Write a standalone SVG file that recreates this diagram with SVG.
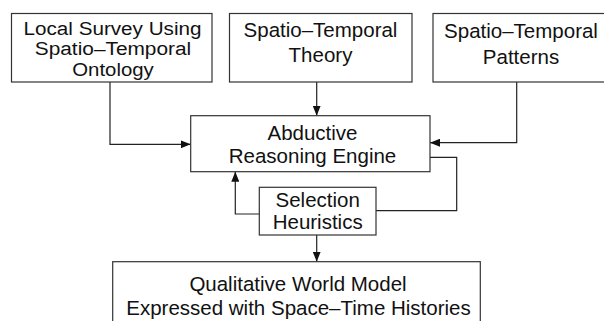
<svg xmlns="http://www.w3.org/2000/svg" width="604" height="321" viewBox="0 0 604 321">
<defs>
<style>
.box{fill:#fff;stroke:#333;stroke-width:1.2}
.t{font-family:"Liberation Sans",Arial,sans-serif;font-size:20.5px;fill:#111;text-anchor:middle}
.s{font-size:18px}
.c{fill:none;stroke:#222;stroke-width:1.2}
</style>
<marker id="ah" viewBox="0 0 10 8" refX="10" refY="4" markerWidth="10" markerHeight="8" markerUnits="userSpaceOnUse" orient="auto">
<path d="M0,0 L10,4 L0,8 Z" fill="#111"/>
</marker>
</defs>
<rect width="604" height="321" fill="#fff"/>
<g id="connectors">
<path class="c" d="M110,82 V144.3 H190.7" marker-end="url(#ah)"/>
<path class="c" d="M316.7,82 V115.7" marker-end="url(#ah)"/>
<path class="c" d="M516.7,82 V142.7 H430" marker-end="url(#ah)"/>
<path class="c" d="M430,157.3 H456.7 V210.7 H376"/>
<path class="c" d="M259.3,214 H235.3 V171.7" marker-end="url(#ah)"/>
<path class="c" d="M316.7,235 V261.7" marker-end="url(#ah)"/>
</g>
<g id="survey">
<rect class="box" x="11.5" y="13.5" width="200.5" height="68.5"/>
<text class="t s" x="112.5" y="35.3" textLength="178" lengthAdjust="spacingAndGlyphs">Local Survey Using</text>
<text class="t s" x="113" y="55.4" textLength="156.5" lengthAdjust="spacingAndGlyphs">Spatio–Temporal</text>
<text class="t s" x="113" y="75.5" textLength="81.5" lengthAdjust="spacingAndGlyphs">Ontology</text>
</g>
<g id="theory">
<rect class="box" x="229.5" y="13.5" width="182.5" height="68.5"/>
<text class="t" x="320.5" y="36.5">Spatio–Temporal</text>
<text class="t" x="320.5" y="62">Theory</text>
</g>
<g id="patterns">
<rect class="box" x="433" y="13.5" width="180" height="68.5"/>
<text class="t" x="521" y="38">Spatio–Temporal</text>
<text class="t" x="521" y="63.5">Patterns</text>
</g>
<g id="engine">
<rect class="box" x="190.7" y="115.7" width="239.3" height="56"/>
<text class="t" x="312.5" y="140">Abductive</text>
<text class="t" x="312.5" y="163">Reasoning Engine</text>
</g>
<g id="heuristics">
<rect class="box" x="259.3" y="187.3" width="116.7" height="47.7"/>
<text class="t" x="317.7" y="207.3">Selection</text>
<text class="t" x="317.7" y="228.5">Heuristics</text>
</g>
<g id="worldmodel">
<rect class="box" x="112.7" y="261.7" width="367.6" height="80"/>
<text class="t" x="298" y="291">Qualitative World Model</text>
<text class="t" x="298.5" y="315">Expressed with Space–Time Histories</text>
</g>
</svg>
